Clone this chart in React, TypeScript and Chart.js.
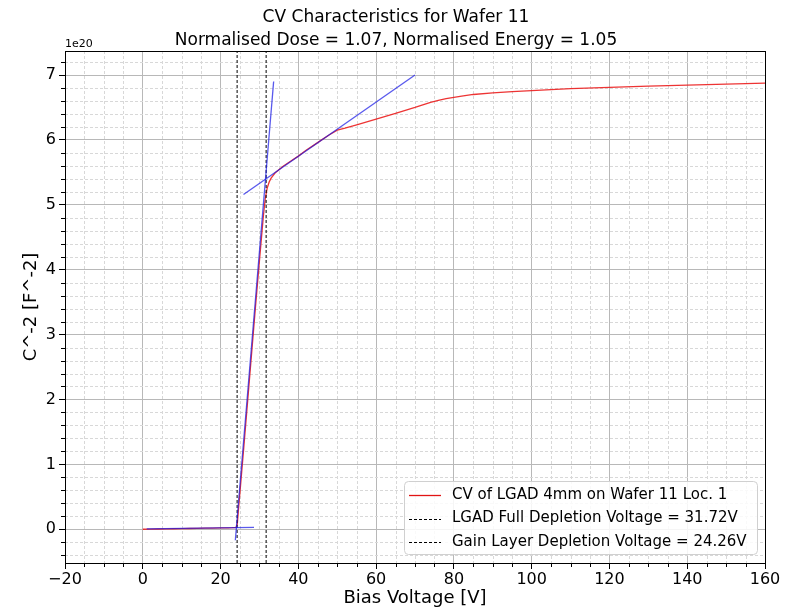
import React, { useEffect, useRef } from "react";
import { Chart, registerables } from "chart.js";

Chart.register(...registerables);

const FONT = "'DejaVu Sans', 'Liberation Sans', sans-serif";

const TITLE_LINES = [
  "CV Characteristics for Wafer 11",
  "Normalised Dose = 1.07, Normalised Energy = 1.05",
];
const X_LABEL = "Bias Voltage [V]";
const Y_LABEL = "C^-2 [F^-2]";
const Y_EXPONENT = "1e20";

const X_MIN = -20;
const X_MAX = 160;
const Y_MIN = -0.52;
const Y_MAX = 7.37;
const X_TICKS = [-20, 0, 20, 40, 60, 80, 100, 120, 140, 160];
const Y_TICKS = [0, 1, 2, 3, 4, 5, 6, 7];
const X_MINOR_STEP = 5;
const Y_MINOR_STEP = 0.2;

// measured CV curve (C^-2 in units of 1e20 F^-2)
const cvVoltage = [
  0, 2, 4, 6, 8, 10, 12, 14, 16, 18, 20, 22, 23, 23.5, 24, 24.3, 24.6, 25, 26,
  27, 28, 29, 30, 31, 31.5, 32, 32.5, 33, 34, 35, 36, 38, 40, 42, 44, 46, 48,
  50, 52, 55, 60, 65, 70, 72, 74, 76, 78, 80, 82, 85, 90, 95, 100, 110, 120,
  130, 140, 150, 160,
];
const cvInvC2 = [
  0.0, 0.002, 0.004, 0.006, 0.008, 0.01, 0.012, 0.014, 0.016, 0.018, 0.02,
  0.022, 0.024, 0.026, 0.03, 0.08, 0.3, 0.58, 1.28, 2.0, 2.72, 3.44, 4.14,
  4.82, 5.1, 5.26, 5.35, 5.41, 5.49, 5.54, 5.59, 5.67, 5.75, 5.84, 5.92, 6.0,
  6.08, 6.15, 6.18, 6.23, 6.32, 6.41, 6.5, 6.54, 6.58, 6.61, 6.635, 6.655,
  6.675, 6.7, 6.725, 6.745, 6.76, 6.79, 6.81, 6.83, 6.845, 6.86, 6.875,
];

// linear fits
const fitBaseV = [1, 28.6];
const fitBaseY = [0.005, 0.03];
const fitRiseV = [23.8, 33.65];
const fitRiseY = [-0.17, 6.9];
const fitPlateauV = [25.9, 70];
const fitPlateauY = [5.16, 7.0];

const FULL_DEPLETION_V = 31.72;
const GAIN_LAYER_V = 24.26;

const LEGEND_LABELS = [
  "CV of LGAD 4mm on Wafer 11 Loc. 1",
  "LGAD Full Depletion Voltage = 31.72V",
  "Gain Layer Depletion Voltage = 24.26V",
];

const RED = "rgba(235,30,30,0.9)";
const BLUE = "rgba(25,25,230,0.72)";

const toPts = (xs: number[], ys: number[]) => xs.map((x, i) => ({ x, y: ys[i] }));
const fmt = (v: number) => (v < 0 ? "\u2212" + Math.abs(v) : String(v));

const decorPlugin = {
  id: "decor",
  beforeDatasetsDraw(chart: any) {
    const { ctx, chartArea, scales } = chart;
    const xs = scales.x;
    const ys = scales.y;
    ctx.save();
    ctx.strokeStyle = "#d8d8d8";
    ctx.lineWidth = 1;
    ctx.setLineDash([3, 2]);
    for (let v = X_MIN; v <= X_MAX + 1e-9; v += X_MINOR_STEP) {
      if (Math.abs(v % 20) < 1e-6) continue;
      const px = Math.round(xs.getPixelForValue(v)) + 0.5;
      ctx.beginPath();
      ctx.moveTo(px, chartArea.top);
      ctx.lineTo(px, chartArea.bottom);
      ctx.stroke();
    }
    for (let k = -2; k * Y_MINOR_STEP <= Y_MAX; k++) {
      const v = k * Y_MINOR_STEP;
      if (v < Y_MIN || k % 5 === 0) continue;
      const py = Math.round(ys.getPixelForValue(v)) + 0.5;
      ctx.beginPath();
      ctx.moveTo(chartArea.left, py);
      ctx.lineTo(chartArea.right, py);
      ctx.stroke();
    }
    // minor tick marks
    ctx.setLineDash([]);
    ctx.strokeStyle = "#000";
    for (let v = X_MIN; v <= X_MAX + 1e-9; v += X_MINOR_STEP) {
      if (Math.abs(v % 20) < 1e-6) continue;
      const px = Math.round(xs.getPixelForValue(v)) + 0.5;
      ctx.beginPath();
      ctx.moveTo(px, chartArea.bottom);
      ctx.lineTo(px, chartArea.bottom + 4);
      ctx.stroke();
    }
    for (let k = -2; k * Y_MINOR_STEP <= Y_MAX; k++) {
      const v = k * Y_MINOR_STEP;
      if (v < Y_MIN || k % 5 === 0) continue;
      const py = Math.round(ys.getPixelForValue(v)) + 0.5;
      ctx.beginPath();
      ctx.moveTo(chartArea.left, py);
      ctx.lineTo(chartArea.left - 4, py);
      ctx.stroke();
    }
    ctx.restore();
  },
  afterDraw(chart: any) {
    const { ctx, chartArea, width } = chart;
    ctx.save();
    // frame
    ctx.strokeStyle = "#000";
    ctx.lineWidth = 1;
    ctx.strokeRect(
      Math.round(chartArea.left) + 0.5,
      Math.round(chartArea.top) + 0.5,
      Math.round(chartArea.right - chartArea.left),
      Math.round(chartArea.bottom - chartArea.top)
    );
    // title (centred on the figure)
    ctx.fillStyle = "#000";
    ctx.textAlign = "center";
    ctx.textBaseline = "alphabetic";
    ctx.font = `17px ${FONT}`;
    const cx = width / 2;
    ctx.fillText(TITLE_LINES[0], cx, 22);
    ctx.fillText(TITLE_LINES[1], cx, 45);
    // exponent
    ctx.font = `11px ${FONT}`;
    ctx.textAlign = "left";
    ctx.fillText(Y_EXPONENT, chartArea.left, chartArea.top - 4);
    // legend
    const bw = 353;
    const bh = 73;
    const bx = chartArea.right - 8 - bw;
    const by = chartArea.bottom - 9 - bh;
    ctx.beginPath();
    ctx.roundRect(bx + 0.5, by + 0.5, bw, bh, 4);
    ctx.fillStyle = "rgba(255,255,255,0.85)";
    ctx.fill();
    ctx.strokeStyle = "#d0d0d0";
    ctx.stroke();
    ctx.font = `15px ${FONT}`;
    ctx.textBaseline = "middle";
    LEGEND_LABELS.forEach((label, i) => {
      const ry = by + 14 + i * 23.5;
      ctx.beginPath();
      ctx.strokeStyle = i === 0 ? "rgb(225,20,20)" : "#000";
      ctx.setLineDash(i === 0 ? [] : [3, 2]);
      ctx.lineWidth = i === 0 ? 1.3 : 1;
      ctx.moveTo(bx + 5, Math.round(ry) + 0.5);
      ctx.lineTo(bx + 37, Math.round(ry) + 0.5);
      ctx.stroke();
      ctx.setLineDash([]);
      ctx.fillStyle = "#000";
      ctx.fillText(label, bx + 48, ry);
    });
    ctx.restore();
  },
};

export default function App() {
  const ref = useRef<HTMLCanvasElement | null>(null);
  useEffect(() => {
    document.body.style.margin = "0";
    const canvas = ref.current;
    if (!canvas) return;
    const line = (data: any[], color: string, width: number, order: number, dash: number[] = []) => ({
      data,
      order,
      borderColor: color,
      backgroundColor: color,
      borderWidth: width,
      borderDash: dash,
      showLine: true,
      pointRadius: 0,
      pointHoverRadius: 0,
      tension: 0,
      fill: false,
    });
    const chart = new Chart(canvas, {
      type: "scatter",
      data: {
        datasets: [
          line(toPts(cvVoltage, cvInvC2), RED, 1.3, 3),
          line([{ x: FULL_DEPLETION_V, y: Y_MIN }, { x: FULL_DEPLETION_V, y: Y_MAX }], "#000", 1, 2, [3, 2]),
          line([{ x: GAIN_LAYER_V, y: Y_MIN }, { x: GAIN_LAYER_V, y: Y_MAX }], "#000", 1, 2, [3, 2]),
          line(toPts(fitBaseV, fitBaseY), BLUE, 1.3, 0),
          line(toPts(fitRiseV, fitRiseY), BLUE, 1.3, 0),
          line(toPts(fitPlateauV, fitPlateauY), BLUE, 1.3, 0),
        ],
      },
      options: {
        responsive: false,
        animation: false,
        devicePixelRatio: 1,
        layout: { padding: { top: 51, right: 27, bottom: 0, left: 0 } },
        plugins: {
          legend: { display: false },
          title: { display: false },
          tooltip: { enabled: false },
        },
        scales: {
          x: {
            type: "linear",
            min: X_MIN,
            max: X_MAX,
            afterBuildTicks: (s: any) => {
              s.ticks = X_TICKS.map((value) => ({ value }));
            },
            afterFit: (s: any) => {
              s.height = 47;
              s.paddingLeft = 0;
              s.paddingRight = 0;
            },
            ticks: {
              autoSkip: false,
              maxRotation: 0,
              padding: 1,
              color: "#000",
              font: { family: FONT, size: 16 },
              callback: (v: any) => fmt(Number(v)),
            },
            grid: { color: "#b8b8b8", lineWidth: 1, tickLength: 6, tickColor: "#000" },
            border: { color: "#000", width: 1 },
            title: {
              display: true,
              text: X_LABEL,
              color: "#000",
              font: { family: FONT, size: 18 },
              padding: { top: 0, bottom: 1 },
            },
          },
          y: {
            type: "linear",
            min: Y_MIN,
            max: Y_MAX,
            afterBuildTicks: (s: any) => {
              s.ticks = Y_TICKS.map((value) => ({ value }));
            },
            afterFit: (s: any) => {
              s.width = 65;
              s.paddingTop = 0;
              s.paddingBottom = 0;
            },
            ticks: {
              padding: 3,
              color: "#000",
              font: { family: FONT, size: 16 },
              callback: (v: any) => fmt(Number(v)),
            },
            grid: { color: "#b8b8b8", lineWidth: 1, tickLength: 6, tickColor: "#000" },
            border: { color: "#000", width: 1 },
            title: {
              display: true,
              text: Y_LABEL,
              color: "#000",
              font: { family: FONT, size: 18 },
              padding: { top: 21, bottom: 0 },
            },
          },
        },
      },
      plugins: [decorPlugin],
    } as any);
    return () => chart.destroy();
  }, []);
  return (
    <div style={{ width: 792, height: 610 }}>
      <canvas ref={ref} width={792} height={610} />
    </div>
  );
}
